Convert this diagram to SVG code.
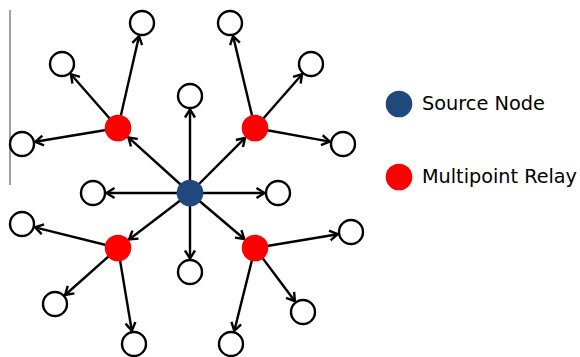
<svg xmlns="http://www.w3.org/2000/svg" width="580" height="357" viewBox="0 0 580 357">
  <defs>
    <marker id="arrow" markerUnits="userSpaceOnUse" markerWidth="12" markerHeight="12" refX="9.5" refY="6" orient="auto" overflow="visible">
      <path d="M1.5,1 L9.5,6 L1.5,11" fill="none" stroke="#000" stroke-width="2.4" stroke-linejoin="miter"/>
    </marker>
  </defs>
  <style>
    .edge { stroke: #000; stroke-width: 2.4; fill: none; marker-end: url(#arrow); }
    .leaf { fill: #fff; stroke: #000; stroke-width: 2.4; }
    .relay { fill: #ff0000; }
    .source { fill: #1f497d; }
    .label { font-family: "DejaVu Sans", Verdana, sans-serif; font-size: 19.5px; fill: #000; }
  </style>
  <rect width="580" height="357" fill="#fff"/>
  <line x1="10" y1="10" x2="10" y2="185" stroke="#808080" stroke-width="1.5"/>

  <g id="connectors">
    <!-- source to direct neighbours -->
    <line class="edge" x1="190" y1="193" x2="190" y2="109.5"/>
    <line class="edge" x1="190" y1="193" x2="190" y2="258.5"/>
    <line class="edge" x1="190" y1="193" x2="106.5" y2="193"/>
    <line class="edge" x1="190" y1="193" x2="264.5" y2="193"/>
    <!-- source to relays -->
    <line class="edge" x1="190" y1="193" x2="128.4" y2="137.4"/>
    <line class="edge" x1="190" y1="193" x2="245.1" y2="137.9"/>
    <line class="edge" x1="190" y1="193" x2="129.1" y2="239.5"/>
    <line class="edge" x1="190" y1="193" x2="244.3" y2="239"/>
    <!-- upper-left relay -->
    <line class="edge" x1="118" y1="128" x2="139" y2="36.2"/>
    <line class="edge" x1="118" y1="128" x2="70.9" y2="74.2"/>
    <line class="edge" x1="118" y1="128" x2="35.3" y2="141.8"/>
    <!-- upper-right relay -->
    <line class="edge" x1="255" y1="128" x2="233.1" y2="36.1"/>
    <line class="edge" x1="255" y1="128" x2="302.1" y2="74.2"/>
    <line class="edge" x1="255" y1="128" x2="329.7" y2="141.6"/>
    <!-- lower-left relay -->
    <line class="edge" x1="118" y1="248" x2="35.1" y2="227.3"/>
    <line class="edge" x1="118" y1="248" x2="65.1" y2="295"/>
    <line class="edge" x1="118" y1="248" x2="131.8" y2="330.7"/>
    <!-- lower-right relay -->
    <line class="edge" x1="255" y1="248" x2="337.7" y2="234.2"/>
    <line class="edge" x1="255" y1="248" x2="294.9" y2="301.2"/>
    <line class="edge" x1="255" y1="248" x2="234.3" y2="330.9"/>
  </g>

  <g id="source"><circle class="source" cx="190" cy="193" r="13.3"/></g>
  <g id="relay-ul"><circle class="relay" cx="118" cy="128" r="13.3"/></g>
  <g id="relay-ur"><circle class="relay" cx="255" cy="128" r="13.3"/></g>
  <g id="relay-ll"><circle class="relay" cx="118" cy="248" r="13.3"/></g>
  <g id="relay-lr"><circle class="relay" cx="255" cy="248" r="13.3"/></g>

  <g id="n-up"><circle class="leaf" cx="190" cy="96" r="12"/></g>
  <g id="n-down"><circle class="leaf" cx="190" cy="272" r="12"/></g>
  <g id="n-left"><circle class="leaf" cx="93" cy="193" r="12"/></g>
  <g id="n-right"><circle class="leaf" cx="278" cy="193" r="12"/></g>

  <g id="n-ul1"><circle class="leaf" cx="142" cy="23" r="12"/></g>
  <g id="n-ul2"><circle class="leaf" cx="62" cy="64" r="12"/></g>
  <g id="n-ul3"><circle class="leaf" cx="22" cy="144" r="12"/></g>

  <g id="n-ur1"><circle class="leaf" cx="230" cy="23" r="12"/></g>
  <g id="n-ur2"><circle class="leaf" cx="311" cy="64" r="12"/></g>
  <g id="n-ur3"><circle class="leaf" cx="343" cy="144" r="12"/></g>

  <g id="n-ll1"><circle class="leaf" cx="22" cy="224" r="12"/></g>
  <g id="n-ll2"><circle class="leaf" cx="55" cy="304" r="12"/></g>
  <g id="n-ll3"><circle class="leaf" cx="134" cy="344" r="12"/></g>

  <g id="n-lr1"><circle class="leaf" cx="351" cy="232" r="12"/></g>
  <g id="n-lr2"><circle class="leaf" cx="303" cy="312" r="12"/></g>
  <g id="n-lr3"><circle class="leaf" cx="231" cy="344" r="12"/></g>

  <g id="legend">
    <circle class="source" cx="399" cy="104" r="13.3"/>
    <text class="label" x="422" y="110" textLength="123" lengthAdjust="spacingAndGlyphs">Source Node</text>
    <circle class="relay" cx="399" cy="177" r="13.3"/>
    <text class="label" x="422" y="183" textLength="155" lengthAdjust="spacingAndGlyphs">Multipoint Relay</text>
  </g>
</svg>
